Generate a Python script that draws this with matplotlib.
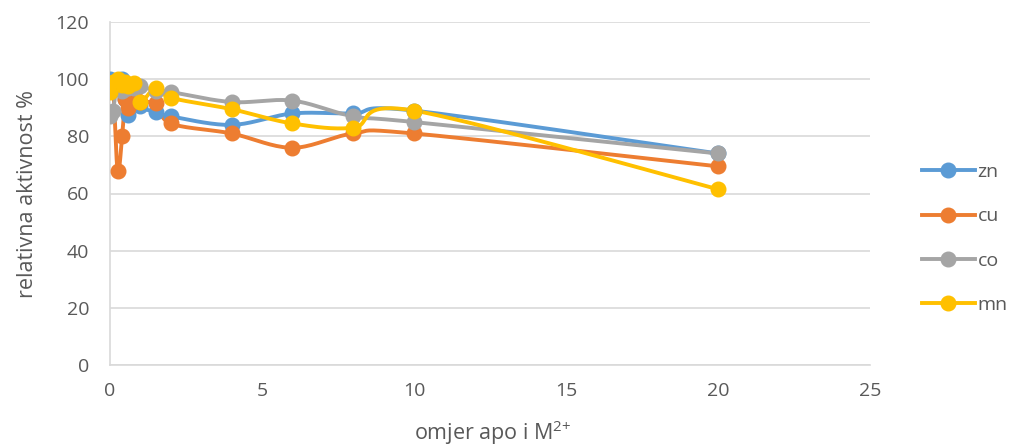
import numpy as np
import matplotlib
matplotlib.use("Agg")
import matplotlib.pyplot as plt

# ---- data ----
ratio = [0, 0.1, 0.25, 0.4, 0.5, 0.6, 0.8, 1, 1.5, 2, 4, 6, 8, 10, 20]
zn = [100, 99, 97, 100, 93, 87.5, 96, 90.5, 88.5, 87, 84, 88, 88, 89, 74]
cu = [97, 98, 68, 80, 93, 90, 95, 92, 91.5, 84.5, 81, 76, 81, 81, 69.5]
co = [87, 89, 99, 96, 97, 97, 97, 97.5, 96, 95.5, 92, 92.5, 87, 85, 74]
mn = [95.5, 99, 100, 98, 99, 97.5, 98.5, 92, 97, 93.5, 89.5, 84.5, 83, 89, 61.5]
series_names = ["zn", "cu", "co", "mn"]
colors = ["#5B9BD5", "#ED7D31", "#A5A5A5", "#FFC000"]
yticks = [0, 20, 40, 60, 80, 100, 120]
xticks = [0, 5, 10, 15, 20, 25]

FONT = ["Open Sans", "DejaVu Sans"]
W, H = 1015, 447
fig = plt.figure(figsize=(W / 100, H / 100), dpi=100)
ax = fig.add_axes([110 / W, (H - 365) / H, 760 / W, 343 / H])
ax.set_xlim(0, 25)
ax.set_ylim(0, 120)

sx = 760 / 25
sy = 343 / 120


def smooth(xs, ys, n=20):
    P = np.column_stack([np.asarray(xs, float) * sx, np.asarray(ys, float) * sy])
    out = [P[0]]
    m = len(P)
    for i in range(m - 1):
        p0 = P[i - 1] if i > 0 else P[i]
        p1 = P[i]
        p2 = P[i + 1]
        p3 = P[i + 2] if i + 2 < m else P[i + 1]
        c1 = p1 + (p2 - p0) / 6
        c2 = p2 - (p3 - p1) / 6
        t = np.linspace(0, 1, n)[1:, None]
        b = ((1 - t) ** 3) * p1 + 3 * ((1 - t) ** 2) * t * c1 + 3 * (1 - t) * t ** 2 * c2 + t ** 3 * p2
        out.extend(b)
    out = np.array(out)
    return out[:, 0] / sx, out[:, 1] / sy


for name, ys, c in zip(series_names, [zn, cu, co, mn], colors):
    lx, ly = smooth(ratio, ys)
    ax.plot(lx, ly, color=c, lw=2.8, solid_capstyle="round", zorder=3)
    ax.plot(ratio, ys, "o", color=c, ms=10.5, zorder=4)
    ax.plot([], [], color=c, lw=2.8, marker="o", ms=10.5, label=name)

ax.set_yticks(yticks)
ax.set_xticks(xticks)
ax.grid(axis="y", color="#D9D9D9", lw=1.2)
ax.set_axisbelow(True)
for s in ["top", "right"]:
    ax.spines[s].set_visible(False)
for s in ["left", "bottom"]:
    ax.spines[s].set_color("#D9D9D9")
    ax.spines[s].set_linewidth(1.2)
ax.tick_params(length=0, labelsize=14, labelcolor="#595959")
ax.tick_params(axis="y", pad=15)
ax.tick_params(axis="x", pad=12)
for lab in ax.get_xticklabels() + ax.get_yticklabels():
    lab.set_family(FONT)

ax.set_ylabel("relativna aktivnost %", fontsize=15.5, color="#595959", family=FONT)
ax.set_xlabel("omjer apo i M$^{\\mathregular{2{+}}}$", fontsize=15.5, color="#595959", family=FONT)
ax.yaxis.set_label_coords(-0.109, 0.5)
ax.xaxis.set_label_coords(0.503, -0.198)
ax.xaxis.label.set_va("center")
ax.yaxis.label.set_va("center")

leg = fig.legend(loc="center left", bbox_to_anchor=(922 / W, 1 - 238.5 / H), frameon=False,
                 borderpad=0, borderaxespad=0, labelspacing=1.35, handlelength=2.7, handletextpad=0.15,
                 labelcolor="#595959", prop={"family": FONT, "size": 14})

fig.savefig("out.png", dpi=100)
